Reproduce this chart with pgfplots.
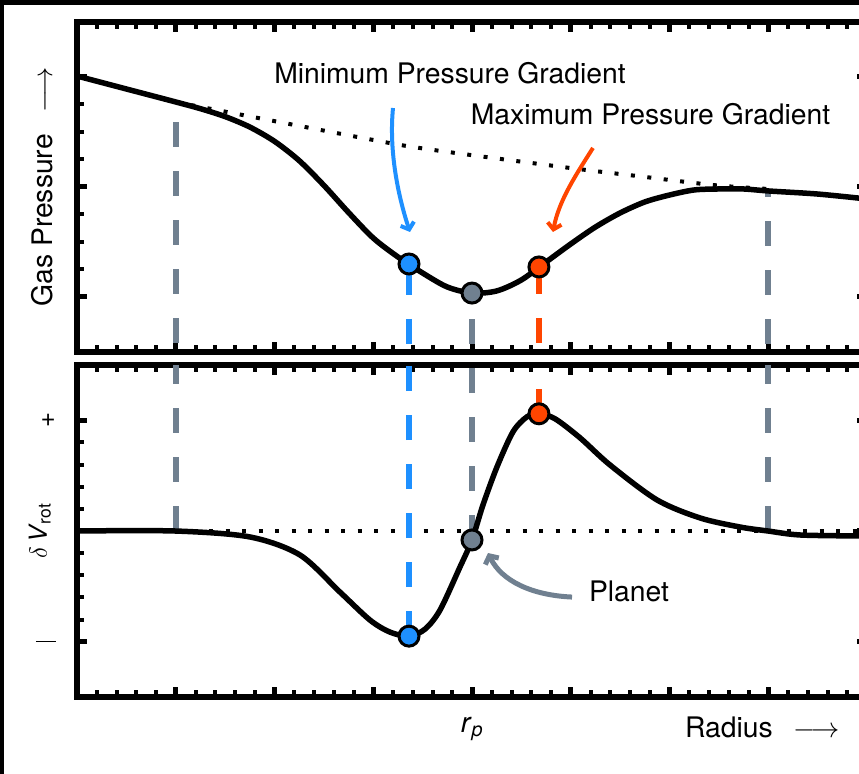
\documentclass[border=0pt]{standalone}
\usepackage{fix-cm}
\usepackage{fontspec}
\setmainfont{TeX Gyre Heros}
\usepackage{pgfplots}
\pgfplotsset{compat=1.18}
\usetikzlibrary{arrows.meta}
\definecolor{cblue}{HTML}{1E90FF}
\definecolor{corange}{HTML}{FF4500}
\definecolor{cgray}{HTML}{708090}

\pgfplotsset{
 panel/.style={
  scale only axis, width=790bp, xmin=0, xmax=8,
  axis line style={line width=6bp, black},
  tick align=inside,
  xtick={0,1,...,8}, minor x tick num=4,
  major tick length=10bp, minor tick length=7bp,
  every major tick/.append style={line width=5bp, black},
  every minor tick/.append style={line width=4bp, black},
  font=\fontsize{28.4}{34}\selectfont,
  every axis label/.append style={font=\fontsize{28.4}{34}\selectfont},
 },
 curve/.style={black, line width=5.5bp, smooth, no markers},
 vdash/.style={line width=6bp, no markers},
 dot/.style={only marks, mark=*, mark size=10bp, mark options={draw=black, line width=3bp}},
}

\pgfplotstableread{
x y
0 2.509
0.5 2.391
1.0 2.273
1.25 2.212
1.5 2.140
1.75 2.045
2.0 1.915
2.25 1.740
2.5 1.515
2.75 1.268
3.0 1.036
3.25 0.864
3.5 0.718
3.75 0.591
4.0 0.536
4.25 0.555
4.5 0.655
4.75 0.818
5.0 0.982
5.25 1.136
5.5 1.264
5.75 1.364
6.0 1.427
6.25 1.473
6.5 1.482
6.75 1.482
7.0 1.464
7.5 1.436
8.0 1.391
}\pressure

\pgfplotstableread{
x y
0.992 2.273
2.896 1.945
3.544 1.845
4.992 1.673
5.671 1.600
6.441 1.518
6.997 1.482
}\unperturbed

\pgfplotstableread{
x y
0 0
0.992 0
1.752 -0.054
2.258 -0.217
2.663 -0.552
2.967 -0.805
3.170 -0.914
3.362 -0.95
3.524 -0.887
3.676 -0.715
3.878 -0.326
4.0 -0.081
4.111 0.235
4.253 0.579
4.415 0.896
4.557 1.032
4.678 1.059
4.841 1.014
5.094 0.842
5.397 0.597
5.873 0.281
6.309 0.118
6.714 0.036
6.997 0
7.322 -0.036
7.919 -0.045
8.0 -0.045
}\vrot

\begin{document}
\begin{tikzpicture}
\useasboundingbox (0,0) rectangle (859bp,774bp);
\clip (0,0) rectangle (859bp,774bp);

% top panel
\begin{axis}[panel, at={(77bp,422bp)}, anchor=south west, height=330bp,
  ymin=0, ymax=3, ytick={0.5,1.5,2.5}, minor y tick num=3,
  xticklabels={}, yticklabels={},
  ylabel={Gas Pressure\hspace{0.75em}$\longrightarrow$},
  ylabel style={at={(axis description cs:-0.0316,0.5)}, anchor=base}]
\addplot[vdash, cgray, dash pattern=on 25bp off 24bp, dash phase=29bp] coordinates {(1,2.27) (1,0)};
\addplot[vdash, cblue, dash pattern=on 25bp off 24bp, dash phase=43bp] coordinates {(3.362,0.8) (3.362,0)};
\addplot[vdash, cgray, dash pattern=on 25bp off 24bp, dash phase=23bp] coordinates {(4,0.536) (4,0)};
\addplot[vdash, corange, dash pattern=on 25bp off 24bp, dash phase=47bp] coordinates {(4.678,0.773) (4.678,0)};
\addplot[vdash, cgray, dash pattern=on 25bp off 24bp, dash phase=18bp] coordinates {(7,1.47) (7,0)};
\addplot[black, line width=4bp, dash pattern=on 4bp off 12.5bp, smooth, no markers] table {\unperturbed};
\addplot[curve] table {\pressure};
\addplot[dot, fill=cblue] coordinates {(3.362,0.8)};
\addplot[dot, fill=cgray] coordinates {(4.0,0.536)};
\addplot[dot, fill=corange] coordinates {(4.678,0.773)};
\draw[cblue, line width=4bp, -{Straight Barb[length=6bp, width=14bp]}]
  (axis cs:3.20,2.218) .. controls (axis cs:3.16,1.85) and (axis cs:3.24,1.45) .. (axis cs:3.372,1.091);
\draw[corange, line width=4bp, -{Straight Barb[length=6bp, width=14bp]}]
  (axis cs:5.225,1.855) .. controls (axis cs:5.06,1.62) and (axis cs:4.88,1.38) .. (axis cs:4.82,1.091);
\end{axis}

% bottom panel
\begin{axis}[panel, at={(77bp,77bp)}, anchor=south west, height=332bp,
  ymin=-1.5, ymax=1.5, ytick={-1,0,1}, minor y tick num=4,
  yticklabels={{\rule{20bp}{1.2bp}},{},{\fontsize{26}{30}\selectfont +}},
  yticklabel style={anchor=east, inner sep=0pt, xshift=-21bp},
  xticklabels={,,,,{\textit{r}\textsubscript{\textit{p}}},,,,},
  xticklabel style={font=\fontsize{28.4}{34}\selectfont, anchor=base, yshift=-35bp},
  xlabel={Radius\hspace{0.75em}$\longrightarrow$},
  xlabel style={at={(axis description cs:0.9696,0)}, anchor=base east, yshift=-40bp},
  ylabel={$\delta$\,\textit{V}\textsubscript{rot}},
  ylabel style={font=\fontsize{25}{30}\selectfont, at={(axis description cs:-0.038,0.5)}, anchor=base}]
\addplot[black, line width=4bp, dash pattern=on 4bp off 12.5bp, no markers] coordinates {(0,0) (8,0)};
\addplot[vdash, cgray, dash pattern=on 25bp off 24bp] coordinates {(1,0) (1,1.5)};
\addplot[vdash, cblue, dash pattern=on 25bp off 24bp] coordinates {(3.362,-0.95) (3.362,1.5)};
\addplot[vdash, cgray, dash pattern=on 25bp off 24bp] coordinates {(4,-0.081) (4,1.5)};
\addplot[vdash, corange, dash pattern=on 25bp off 24bp] coordinates {(4.678,1.059) (4.678,1.5)};
\addplot[vdash, cgray, dash pattern=on 25bp off 24bp] coordinates {(7,0) (7,1.5)};
\addplot[curve] table {\vrot};
\addplot[dot, fill=cblue] coordinates {(3.362,-0.95)};
\addplot[dot, fill=cgray] coordinates {(4.0,-0.081)};
\addplot[dot, fill=corange] coordinates {(4.678,1.059)};
\draw[cgray, line width=5bp, -{Straight Barb[length=6bp, width=15bp]}]
  (axis cs:5.013,-0.597) .. controls (axis cs:4.6,-0.58) and (axis cs:4.3,-0.45) .. (axis cs:4.162,-0.199);
\end{axis}

\node[anchor=base, font=\fontsize{28.4}{34}\selectfont] at (450bp,690bp) {Minimum Pressure Gradient};
\node[anchor=base, font=\fontsize{28.4}{34}\selectfont] at (650.5bp,649bp) {Maximum Pressure Gradient};
\node[anchor=base, font=\fontsize{28.4}{34}\selectfont] at (629bp,172bp) {Planet};

\fill[black] (0,0) rectangle (4bp,774bp);
\fill[black] (0,769bp) rectangle (859bp,774bp);
\end{tikzpicture}
\end{document}
